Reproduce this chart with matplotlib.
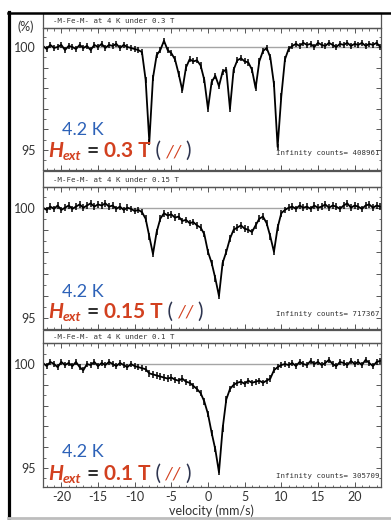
import matplotlib
matplotlib.use('Agg')
import matplotlib.pyplot as plt
from matplotlib.lines import Line2D
from matplotlib.patches import Rectangle
import numpy as np

plt.rcParams['font.family'] = ['Lato', 'DejaVu Sans']
plt.rcParams['axes.unicode_minus'] = False

W, H = 391, 520

# velocity channels (mm/s)
vel = np.arange(-22.5, 23.6, 0.5)

# transmission (%)
trans_03 = [100.05, 99.9, 100.1, 99.95, 100.0, 100.1, 99.85, 100.05, 100.0, 99.9,
            100.1, 99.95, 100.05, 99.85, 100.1, 100.0, 100.15, 99.95, 100.1, 100.05,
            100.15, 99.95, 100.1, 100.0, 99.95, 99.9, 99.85, 99.75, 98.4, 95.4,
            98.5, 99.6, 99.85, 100.3, 99.85, 99.7, 99.4, 98.7, 97.9, 99.0,
            99.4, 99.3, 99.35, 99.1, 98.4, 97.0, 98.3, 98.6, 98.1, 98.8,
            98.9, 97.0, 98.9, 99.35, 99.45, 99.3, 99.25, 98.9, 98.0, 99.3,
            99.8, 99.95, 99.5, 98.2, 95.15, 97.6, 99.4, 99.9, 100.05, 100.15,
            100.05, 100.2, 100.1, 100.15, 100.0, 100.2, 100.1, 100.05, 100.2, 100.1,
            100.0, 100.15, 100.1, 100.2, 100.05, 100.15, 100.1, 100.2, 100.05, 100.15,
            100.1, 100.2, 100.0]
trans_015 = [100.0, 99.9, 100.05, 99.95, 100.1, 99.9, 100.0, 100.1, 99.95, 100.05,
             100.15, 100.0, 100.1, 100.2, 100.05, 100.15, 100.1, 100.2, 100.05, 100.1,
             99.95, 100.05, 99.9, 100.0, 99.95, 99.85, 99.9, 99.8, 99.5, 98.7,
             97.9, 98.9, 99.5, 99.75, 99.65, 99.7, 99.55, 99.6, 99.4, 99.45,
             99.3, 99.35, 99.2, 99.1, 98.8, 98.0, 97.5, 96.8, 96.0, 97.5,
             98.0, 98.6, 99.0, 99.1, 99.2, 99.05, 99.0, 98.9, 99.2, 99.5,
             99.6, 99.3, 98.7, 98.0, 99.1, 99.75, 99.9, 100.0, 100.05, 99.95,
             100.1, 100.0, 100.05, 99.95, 100.1, 100.0, 100.05, 100.15, 100.0, 100.1,
             100.05, 99.95, 100.1, 100.2, 100.0, 100.1, 100.05, 99.95, 100.1, 100.15,
             100.0, 100.1, 100.05]
trans_01 = [100.05, 99.9, 100.1, 100.0, 99.85, 100.1, 99.95, 100.05, 99.9, 100.1,
            99.85, 99.7, 100.0, 99.95, 100.1, 99.9, 100.05, 99.95, 100.1, 100.0,
            99.9, 100.05, 99.95, 99.85, 100.0, 99.9, 99.85, 99.8, 99.75, 99.55,
            99.5, 99.45, 99.4, 99.35, 99.3, 99.35, 99.25, 99.2, 99.3, 99.15,
            99.1, 98.95, 98.8, 98.6, 98.2, 97.6, 96.7, 95.9, 94.8, 96.9,
            98.3, 98.8, 99.0, 99.1, 99.15, 99.05, 99.2, 99.1, 99.15, 99.2,
            99.1, 99.2, 99.3, 99.7, 99.85, 99.95, 100.0, 99.95, 100.05, 99.9,
            100.1, 100.0, 99.95, 100.15, 100.0, 100.1, 99.95, 100.05, 100.2, 100.0,
            99.9, 100.1, 100.05, 99.95, 100.15, 100.0, 100.1, 99.95, 100.2, 100.05,
            99.9, 100.1, 100.15]

fields = ['0.3', '0.15', '0.1']
counts = ['408961', '717367', '305709']
spectra = [trans_03, trans_015, trans_01]
ylims = [(94.03, 100.92), (94.87, 100.94), (94.09, 101.01)]

# layout in pixels: header top, axes top, axes bottom
header_top = [13, 171, 330]
ax_top = [28, 187, 343]
ax_bot = [170, 329, 487]
text_base = [(135, 157), (297, 318), (457, 480)]

red = '#d2401f'
blue = '#2d62b8'
navy = '#2e3550'
dark = '#333333'

fig = plt.figure(figsize=(W / 100, H / 100), dpi=100)
renderer = fig.canvas.get_renderer()


def fx(x):
    return x / W


def fy(y):
    return 1 - y / H


for i in range(3):
    l, r = 43, 381
    ax = fig.add_axes([fx(l), fy(ax_bot[i]), fx(r - l), (ax_bot[i] - ax_top[i]) / H])
    ax.axhline(100, color='#a5a5a5', lw=1.0, zorder=1)
    ax.errorbar(vel, spectra[i], yerr=0.15, fmt='-', color='k', lw=1.3,
                elinewidth=1.1, capsize=0, zorder=2)
    ax.set_xlim(-22.5, 23.6)
    ax.set_ylim(*ylims[i])
    ax.set_xticks([-20, -15, -10, -5, 0, 5, 10, 15, 20])
    ax.set_xticks(np.arange(-22, 24, 1), minor=True)
    ax.set_yticks([95, 96, 97, 98, 99, 100])
    ax.set_yticklabels(['95', '', '', '', '', '100'])
    ax.set_yticks(np.arange(94.5, 101, 0.5), minor=True)
    ax.tick_params(which='both', direction='in', top=True, right=True,
                   color='#555555', labelsize=9, labelcolor=dark, pad=5)
    ax.tick_params(axis='x', pad=3)
    ax.tick_params(which='major', length=3.5, width=0.7)
    ax.tick_params(which='minor', length=1.8, width=0.6)
    if i < 2:
        ax.tick_params(labelbottom=False)
    for s in ax.spines.values():
        s.set_color('#555555')
        s.set_linewidth(0.9)

    # header strip with the run title
    fig.patches.append(Rectangle((fx(l), fy(ax_top[i])), fx(r - l),
                                 (ax_top[i] - header_top[i]) / H,
                                 transform=fig.transFigure, fill=False,
                                 ec='#555555', lw=0.9))
    fig.text(fx(53), fy((header_top[i] + ax_top[i]) / 2 + 0.5),
             f'-M-Fe-M- at 4 K under {fields[i]} T', family='DejaVu Sans Mono',
             fontsize=5.3, color=dark, va='center', ha='left')
    fig.text(fx(380), fy(text_base[i][1] - 2), f'Infinity counts= {counts[i]}',
             family='DejaVu Sans Mono', fontsize=5.3, color=dark, ha='right',
             va='baseline')

    # temperature and field labels
    fig.text(fx(62), fy(text_base[i][0]), '4.2 K', fontsize=13, color=blue,
             va='baseline')
    x = 48
    yb = text_base[i][1]
    pieces = [('H', red, 15, 'bold', 'italic', 0),
              ('ext', red, 10, 'bold', 'italic', 3),
              (' = ', dark, 15, 'bold', 'normal', 0),
              (f'{fields[i]} T', red, 15, 'bold', 'normal', 0),
              (' (', navy, 15, 'normal', 'normal', 0),
              (' // ', red, 13, 'normal', 'italic', 0),
              (')', navy, 15, 'normal', 'normal', 0)]
    for s, c, fs, fw, st, dy in pieces:
        t = fig.text(fx(x), fy(yb + dy), s, color=c, fontsize=fs, fontweight=fw,
                     fontstyle=st, va='baseline', ha='left')
        x = t.get_window_extent(renderer).x1

fig.text(fx(26), fy(27), '(%)', fontsize=9, color=dark, ha='center', va='center')
fig.text(fx(211), fy(511), 'velocity (mm/s)', fontsize=9, color=dark,
         ha='center', va='center')

# outer frame of the slide
fig.add_artist(Line2D([fx(8.5), fx(8.5)], [fy(12), fy(520)], color='k', lw=2.3,
                      transform=fig.transFigure))
fig.add_artist(Line2D([fx(7.5), fx(391)], [fy(12.5), fy(12.5)], color='k', lw=1.8,
                      transform=fig.transFigure))
fig.add_artist(Line2D([fx(8), fx(391)], [fy(518), fy(518)], color='#bdbdbd', lw=2,
                      transform=fig.transFigure))

fig.savefig('out.png', dpi=100)
